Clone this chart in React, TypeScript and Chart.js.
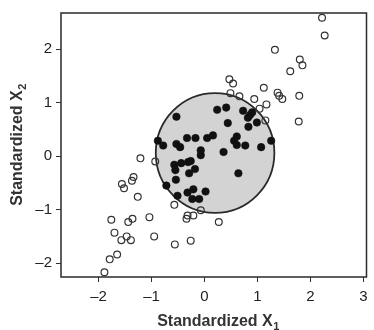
import React, { useEffect, useRef } from "react";
import { Chart, registerables } from "chart.js";

Chart.register(...registerables);

// Observations outside the region (open circles)
const outsideX = [
  2.22, 2.27, 1.33, 1.80, 1.85, 1.62, 0.47, 0.54, 1.12, 1.38, 1.41, 1.47, 1.79, 0.49, 0.66, 0.94, 1.17, 1.04, 1.15, 1.78,
  -1.21, -0.93, -1.34, -1.37, -1.56, -1.52, -1.26, -0.57, -1.76, -1.44, -1.36, -1.04, -0.32, -0.34, -0.21, -0.07, 0.27,
  -1.70, -1.47, -1.57, -1.39, -0.95, -0.56, -0.26, -1.65, -1.79, -1.89,
];
const outsideY = [
  2.59, 2.26, 1.99, 1.81, 1.70, 1.59, 1.44, 1.36, 1.28, 1.19, 1.13, 1.07, 1.13, 1.18, 1.12, 1.07, 0.97, 0.89, 0.67, 0.65,
  -0.04, -0.10, -0.39, -0.46, -0.52, -0.60, -0.76, -0.91, -1.19, -1.23, -1.17, -1.14, -1.11, -1.17, -1.11, -1.01, -1.23,
  -1.43, -1.50, -1.57, -1.57, -1.50, -1.65, -1.58, -1.84, -1.93, -2.17,
];

// Observations inside the region (filled circles)
const insideX = [
  0.24, 0.41, -0.53, 0.73, 0.86, 0.82, 0.90, 0.44, 0.99, 0.83, 0.16, 0.05, -0.33, -0.17, 0.61, 0.56, -0.88, -0.53,
  -0.46, -0.78, 0.61, 0.77, 1.07, 1.26, -0.07, -0.07, 0.36,
  -0.57, -0.55, -0.44, -0.31, -0.26, -0.18, -0.29, -0.54, -0.72, 0.64, -0.51, -0.32, -0.21, 0.02, -0.23, -0.10,
];
const insideY = [
  0.87, 0.91, 0.74, 0.85, 0.77, 0.72, 0.82, 0.62, 0.63, 0.55, 0.39, 0.34, 0.34, 0.34, 0.37, 0.29, 0.29, 0.23,
  0.17, 0.20, 0.21, 0.20, 0.17, 0.29, 0.11, 0.02, 0.08,
  -0.16, -0.26, -0.13, -0.11, -0.09, -0.24, -0.32, -0.44, -0.55, -0.32, -0.74, -0.68, -0.62, -0.66, -0.80, -0.80,
];

// Centroid (square) and circular region
const centroid = [0.18, 0.06];
const circleCenter = [0.2, 0.06];
const circleRadius = 1.12;

// Axes
const xMin = -2.71;
const xMax = 3.06;
const yMin = -2.26;
const yMax = 2.68;
const xTicks = [-2, -1, 0, 1, 2, 3];
const yTicks = [-2, -1, 0, 1, 2];
const xTitle = "Standardized X";
const xTitleSub = "1";
const yTitle = "Standardized X";
const yTitleSub = "2";

const FONT = '"Liberation Sans", Arial, Helvetica, sans-serif';

function drawTitle(ctx: CanvasRenderingContext2D, main: string, sub: string) {
  ctx.font = `bold 16px ${FONT}`;
  const w1 = ctx.measureText(main).width;
  ctx.font = `bold 11px ${FONT}`;
  const w2 = ctx.measureText(sub).width;
  const start = -(w1 + w2) / 2;
  ctx.textBaseline = "alphabetic";
  ctx.textAlign = "left";
  ctx.font = `bold 16px ${FONT}`;
  ctx.fillText(main, start, 0);
  ctx.font = `bold 11px ${FONT}`;
  ctx.fillText(sub, start + w1 + 0.5, 4);
}

export default function App() {
  const ref = useRef<HTMLCanvasElement>(null);

  useEffect(() => {
    const canvas = ref.current;
    if (!canvas) return;

    const circlePlugin = {
      id: "circleRegion",
      beforeDatasetDraw(chart: any, args: any) {
        if (args.index !== 1) return;
        const { ctx, chartArea, scales } = chart;
        const x = scales.x;
        const y = scales.y;
        const cx = x.getPixelForValue(circleCenter[0]);
        const cy = y.getPixelForValue(circleCenter[1]);
        const rx = Math.abs(x.getPixelForValue(circleCenter[0] + circleRadius) - cx);
        const ry = Math.abs(y.getPixelForValue(circleCenter[1] + circleRadius) - cy);
        ctx.save();
        ctx.beginPath();
        ctx.rect(chartArea.left, chartArea.top, chartArea.right - chartArea.left, chartArea.bottom - chartArea.top);
        ctx.clip();
        ctx.beginPath();
        ctx.ellipse(cx, cy, rx, ry, 0, 0, Math.PI * 2);
        ctx.fillStyle = "#d3d3d3";
        ctx.fill();
        ctx.lineWidth = 1.8;
        ctx.strokeStyle = "#2a2a2a";
        ctx.stroke();
        ctx.restore();
      },
    };

    const framePlugin = {
      id: "frame",
      afterDatasetsDraw(chart: any) {
        const { ctx, chartArea } = chart;
        ctx.save();
        ctx.lineWidth = 1.5;
        ctx.strokeStyle = "#2a2a2a";
        ctx.strokeRect(chartArea.left, chartArea.top, chartArea.right - chartArea.left, chartArea.bottom - chartArea.top);
        ctx.restore();
      },
    };

    const titlePlugin = {
      id: "titles",
      afterDraw(chart: any) {
        const { ctx } = chart;
        ctx.save();
        ctx.fillStyle = "#333";
        ctx.translate(218, 325.5);
        drawTitle(ctx, xTitle, xTitleSub);
        ctx.restore();
        ctx.save();
        ctx.fillStyle = "#333";
        ctx.translate(21.5, 145);
        ctx.rotate(-Math.PI / 2);
        drawTitle(ctx, yTitle, yTitleSub);
        ctx.restore();
      },
    };

    const fmt = (v: any) => {
      const n = Number(v);
      return n < 0 ? "\u2013" + Math.abs(n) : String(n);
    };

    const chart = new Chart(canvas, {
      type: "scatter",
      data: {
        datasets: [
          {
            label: "outside",
            data: outsideX.map((x, i) => ({ x, y: outsideY[i] })),
            pointRadius: 3.4,
            pointBorderWidth: 1.2,
            pointBorderColor: "#333",
            pointBackgroundColor: "rgba(255,255,255,0)",
          },
          {
            label: "inside",
            data: insideX.map((x, i) => ({ x, y: insideY[i] })),
            pointRadius: 3.8,
            pointBorderWidth: 0.5,
            pointBorderColor: "#111",
            pointBackgroundColor: "#111",
          },
          {
            label: "centroid",
            data: [{ x: centroid[0], y: centroid[1] }],
            pointStyle: "rect",
            pointRadius: 7,
            pointBorderWidth: 0.5,
            pointBorderColor: "#111",
            pointBackgroundColor: "#111",
          },
        ],
      },
      options: {
        responsive: false,
        animation: false,
        layout: { padding: { left: 0, right: 1, top: 6, bottom: 0 } },
        plugins: {
          legend: { display: false },
          tooltip: { enabled: false },
        },
        scales: {
          x: {
            type: "linear",
            min: xMin,
            max: xMax,
            afterBuildTicks: (scale: any) => {
              scale.ticks = xTicks.map((value) => ({ value }));
            },
            afterFit: (scale: any) => {
              scale.height = 53;
            },
            border: { display: false },
            grid: { display: true, drawOnChartArea: false, drawTicks: true, tickLength: 5, color: "#333", lineWidth: 1 },
            ticks: {
              autoSkip: false,
              maxRotation: 0,
              padding: 6,
              color: "#222",
              font: { family: FONT, size: 15 },
              callback: (v: any) => fmt(v),
            },
          },
          y: {
            type: "linear",
            min: yMin,
            max: yMax,
            afterBuildTicks: (scale: any) => {
              scale.ticks = yTicks.map((value) => ({ value }));
            },
            afterFit: (scale: any) => {
              scale.width = 61;
            },
            border: { display: false },
            grid: { display: true, drawOnChartArea: false, drawTicks: true, tickLength: 5, color: "#333", lineWidth: 1 },
            ticks: {
              autoSkip: false,
              padding: 4,
              color: "#222",
              font: { family: FONT, size: 15 },
              callback: (v: any) => fmt(v),
            },
          },
        },
      },
      plugins: [circlePlugin, framePlugin, titlePlugin],
    } as any);

    return () => chart.destroy();
  }, []);

  return (
    <div style={{ position: "fixed", left: 0, top: 0, width: 374, height: 330, background: "#fff" }}>
      <canvas ref={ref} width={374} height={330} style={{ display: "block" }} />
    </div>
  );
}
